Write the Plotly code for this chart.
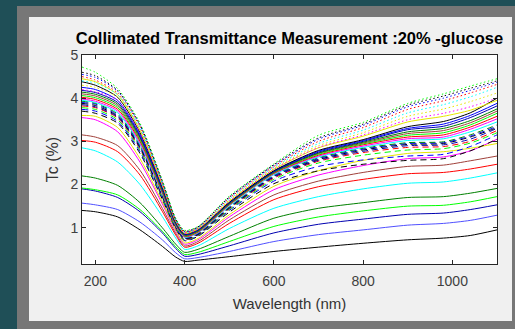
import plotly.graph_objects as go

# ---------------- data ----------------
wavelength = [170, 200, 250, 300, 350, 380, 400, 430, 500, 600, 700, 800, 900, 980, 1040, 1100]

# lower solid group
s_black   = [1.40, 1.37, 1.25, 0.95, 0.57, 0.32, 0.22, 0.25, 0.33, 0.45, 0.55, 0.64, 0.72, 0.76, 0.82, 0.95]
s_blue1   = [1.57, 1.53, 1.42, 1.13, 0.72, 0.42, 0.28, 0.31, 0.45, 0.68, 0.84, 0.95, 1.06, 1.10, 1.17, 1.29]
s_navy1   = [1.90, 1.85, 1.70, 1.37, 0.88, 0.52, 0.34, 0.38, 0.58, 0.88, 1.08, 1.20, 1.31, 1.34, 1.42, 1.53]
s_green1  = [1.92, 1.88, 1.76, 1.42, 0.92, 0.56, 0.38, 0.43, 0.68, 1.03, 1.25, 1.39, 1.50, 1.52, 1.60, 1.72]
s_dkgrn1  = [2.20, 2.15, 1.98, 1.58, 1.00, 0.62, 0.43, 0.50, 0.80, 1.22, 1.45, 1.58, 1.70, 1.72, 1.80, 1.91]
s_cyan1   = [2.85, 2.78, 2.52, 2.00, 1.26, 0.76, 0.50, 0.58, 0.98, 1.45, 1.72, 1.90, 2.03, 2.06, 2.15, 2.27]
s_red1    = [3.02, 2.98, 2.76, 2.22, 1.38, 0.83, 0.55, 0.64, 1.10, 1.65, 1.95, 2.12, 2.25, 2.28, 2.36, 2.47]
s_brown1  = [3.15, 3.10, 2.90, 2.33, 1.45, 0.87, 0.58, 0.68, 1.18, 1.76, 2.08, 2.28, 2.42, 2.45, 2.55, 2.66]
s_mag1    = [3.55, 3.50, 3.22, 2.52, 1.55, 0.92, 0.62, 0.72, 1.25, 1.88, 2.22, 2.44, 2.60, 2.64, 2.78, 3.05]
s_yellow1 = [3.60, 3.58, 3.32, 2.60, 1.60, 0.95, 0.65, 0.75, 1.30, 1.96, 2.32, 2.56, 2.72, 2.76, 2.84, 2.95]

# dashed group
d_black1  = [3.70, 3.65, 3.42, 2.72, 1.66, 0.98, 0.70, 0.80, 1.36, 2.02, 2.32, 2.47, 2.56, 2.60, 2.78, 3.05]
d_blue1   = [3.74, 3.70, 3.46, 2.76, 1.68, 0.99, 0.71, 0.81, 1.40, 2.08, 2.42, 2.57, 2.66, 2.70, 2.88, 3.15]
d_green1  = [3.78, 3.74, 3.50, 2.80, 1.70, 1.00, 0.72, 0.82, 1.42, 2.12, 2.50, 2.68, 2.80, 2.83, 2.96, 3.20]
d_red1    = [3.82, 3.78, 3.54, 2.83, 1.72, 1.01, 0.73, 0.83, 1.44, 2.15, 2.54, 2.74, 2.86, 2.88, 3.00, 3.25]
d_navy1   = [3.85, 3.80, 3.56, 2.85, 1.73, 1.02, 0.74, 0.84, 1.45, 2.17, 2.56, 2.77, 2.90, 2.92, 3.05, 3.30]
d_black2  = [3.88, 3.83, 3.58, 2.87, 1.74, 1.03, 0.75, 0.85, 1.46, 2.19, 2.58, 2.80, 2.93, 2.95, 3.10, 3.32]
d_blue2   = [3.90, 3.86, 3.60, 2.89, 1.75, 1.03, 0.76, 0.86, 1.47, 2.20, 2.60, 2.82, 2.95, 2.97, 3.12, 3.35]
d_dkgrn1  = [3.93, 3.88, 3.63, 2.91, 1.76, 1.04, 0.77, 0.87, 1.48, 2.22, 2.62, 2.84, 2.97, 2.99, 3.15, 3.38]

# upper solid group
u_cyan    = [3.95, 3.90, 3.66, 2.93, 1.78, 1.05, 0.78, 0.88, 1.50, 2.23, 2.64, 2.86, 3.02, 3.06, 3.22, 3.45]
u_mag     = [3.98, 3.93, 3.70, 2.96, 1.80, 1.06, 0.79, 0.89, 1.52, 2.25, 2.66, 2.89, 3.06, 3.10, 3.28, 3.52]
u_red     = [4.02, 3.97, 3.74, 3.00, 1.82, 1.07, 0.80, 0.90, 1.53, 2.26, 2.68, 2.92, 3.10, 3.15, 3.33, 3.58]
u_green   = [4.06, 4.01, 3.78, 3.03, 1.84, 1.08, 0.81, 0.91, 1.54, 2.27, 2.70, 2.94, 3.14, 3.20, 3.38, 3.65]
u_brown   = [4.10, 4.05, 3.82, 3.06, 1.86, 1.09, 0.82, 0.92, 1.55, 2.28, 2.72, 2.96, 3.18, 3.25, 3.43, 3.70]
u_dkgrn   = [4.14, 4.09, 3.86, 3.09, 1.88, 1.10, 0.83, 0.93, 1.56, 2.29, 2.73, 2.98, 3.22, 3.30, 3.48, 3.75]
u_navy    = [4.18, 4.13, 3.90, 3.12, 1.90, 1.11, 0.84, 0.94, 1.57, 2.30, 2.75, 3.00, 3.27, 3.35, 3.55, 3.82]
u_blue    = [4.25, 4.20, 3.95, 3.15, 1.92, 1.12, 0.85, 0.95, 1.58, 2.31, 2.77, 3.02, 3.30, 3.40, 3.60, 3.88]
u_black   = [4.38, 4.30, 4.02, 3.20, 1.95, 1.13, 0.86, 0.96, 1.59, 2.32, 2.79, 3.04, 3.34, 3.46, 3.66, 4.00]
u_yellow  = [4.45, 4.38, 4.08, 3.26, 1.98, 1.15, 0.87, 0.97, 1.61, 2.35, 2.85, 3.12, 3.45, 3.58, 3.72, 3.95]

# dotted group
p_mag     = [4.20, 4.15, 3.95, 3.20, 1.98, 1.15, 0.87, 0.97, 1.62, 2.36, 2.86, 3.15, 3.50, 3.65, 3.80, 4.00]
p_yellow  = [4.30, 4.25, 4.02, 3.26, 2.00, 1.16, 0.88, 0.98, 1.64, 2.38, 2.90, 3.20, 3.58, 3.75, 3.92, 4.12]
p_cyan    = [4.40, 4.35, 4.08, 3.30, 2.02, 1.17, 0.89, 0.99, 1.66, 2.40, 2.95, 3.26, 3.66, 3.85, 4.03, 4.25]
p_red     = [4.50, 4.42, 4.12, 3.34, 2.04, 1.18, 0.90, 1.00, 1.68, 2.42, 3.00, 3.32, 3.74, 3.94, 4.12, 4.32]
p_blue    = [4.55, 4.48, 4.16, 3.37, 2.06, 1.19, 0.91, 1.01, 1.70, 2.44, 3.05, 3.37, 3.80, 4.00, 4.18, 4.37]
p_black   = [4.60, 4.52, 4.18, 3.39, 2.08, 1.20, 0.92, 1.02, 1.71, 2.46, 3.08, 3.40, 3.84, 4.05, 4.23, 4.40]
p_green   = [4.72, 4.60, 4.22, 3.42, 2.10, 1.22, 0.94, 1.03, 1.73, 2.48, 3.14, 3.44, 3.88, 4.10, 4.28, 4.45]

x_ticks = [200, 400, 600, 800, 1000]
y_ticks = [1, 2, 3, 4, 5]

# ---------------- styling ----------------
K, B, G, R, C, M, Y = "#000000", "#0000ff", "#00ff00", "#ff0000", "#00ffff", "#ff00ff", "#e6e600"
DG, BR, NV, LB = "#008000", "#a0403a", "#0000b0", "#5050ff"
SOLID, DASH, DOT = "solid", "6px,4px", "1.5px,2.5px"

series = [
    (s_black, K, SOLID), (s_blue1, LB, SOLID), (s_navy1, NV, SOLID), (s_green1, G, SOLID),
    (s_dkgrn1, DG, SOLID), (s_cyan1, C, SOLID), (s_red1, R, SOLID), (s_brown1, BR, SOLID),
    (s_mag1, M, SOLID), (s_yellow1, Y, SOLID),
    (d_black1, K, DASH), (d_blue1, B, DASH), (d_green1, G, DASH), (d_red1, R, DASH),
    (d_navy1, NV, DASH), (d_black2, K, DASH), (d_blue2, B, DASH), (d_dkgrn1, DG, DASH),
    (u_cyan, C, SOLID), (u_mag, M, SOLID), (u_red, R, SOLID), (u_green, G, SOLID),
    (u_brown, BR, SOLID), (u_dkgrn, DG, SOLID), (u_navy, NV, SOLID), (u_blue, B, SOLID),
    (u_black, K, SOLID), (u_yellow, Y, SOLID),
    (p_mag, M, DOT), (p_yellow, Y, DOT), (p_cyan, C, DOT), (p_red, R, DOT),
    (p_blue, B, DOT), (p_black, K, DOT), (p_green, G, DOT),
]

fig = go.Figure()
for vals, col, dash in series:
    fig.add_trace(go.Scatter(
        x=wavelength, y=vals, mode="lines",
        line=dict(color=col, width=1, dash=dash, shape="spline", smoothing=0.7),
        showlegend=False, hoverinfo="skip"))

# pixel layout of the plot area
W_PX, H_PX = 515, 329
L, Rr, T, Bt = 82, 497, 55, 264

def px(x):
    return (x - L) / (Rr - L)

def py(y):
    return (Bt - y) / (Bt - T)

shapes = [
    dict(type="rect", xref="paper", yref="paper", x0=px(17), x1=px(530), y0=py(340), y1=py(6),
         fillcolor="#777777", line=dict(width=0), layer="below"),
    dict(type="rect", xref="paper", yref="paper", x0=px(29), x1=px(512), y0=py(321), y1=py(17),
         fillcolor="#f0f0f0", line=dict(width=0), layer="below"),
    dict(type="rect", xref="paper", yref="paper", x0=0, x1=1, y0=0, y1=1,
         fillcolor="#ffffff", line=dict(width=0), layer="below"),
]

font_family = "Liberation Sans, Arial, Helvetica, sans-serif"
axis_common = dict(
    showline=True, linecolor="#262626", linewidth=1, mirror="allticks",
    ticks="inside", ticklen=4, tickwidth=1, tickcolor="#262626",
    showgrid=False, zeroline=False,
    tickfont=dict(family=font_family, size=14, color="#404040"),
)

fig.update_layout(
    width=W_PX, height=H_PX,
    margin=dict(l=L, r=W_PX - Rr, t=T, b=H_PX - Bt, pad=0),
    paper_bgcolor="#1f4f57", plot_bgcolor="#ffffff",
    shapes=shapes,
    title=dict(text="<b>Collimated Transmittance Measurement :20% -glucose</b>",
               x=px(289.5), xref="paper", xanchor="center",
               y=1 - 38 / H_PX, yref="container", yanchor="middle",
               font=dict(family=font_family, size=16.5, color="#000000")),
    xaxis=dict(axis_common, range=[170, 1100], tickvals=x_ticks, ticklabelstandoff=4,
               title=dict(text="Wavelength (nm)", standoff=10,
                          font=dict(family=font_family, size=15, color="#333333"))),
    yaxis=dict(axis_common, range=[0.16, 5], tickvals=y_ticks,
               title=dict(text="Tc (%)", standoff=7,
                          font=dict(family=font_family, size=16, color="#333333"))),
)

fig.write_html("out.html")
